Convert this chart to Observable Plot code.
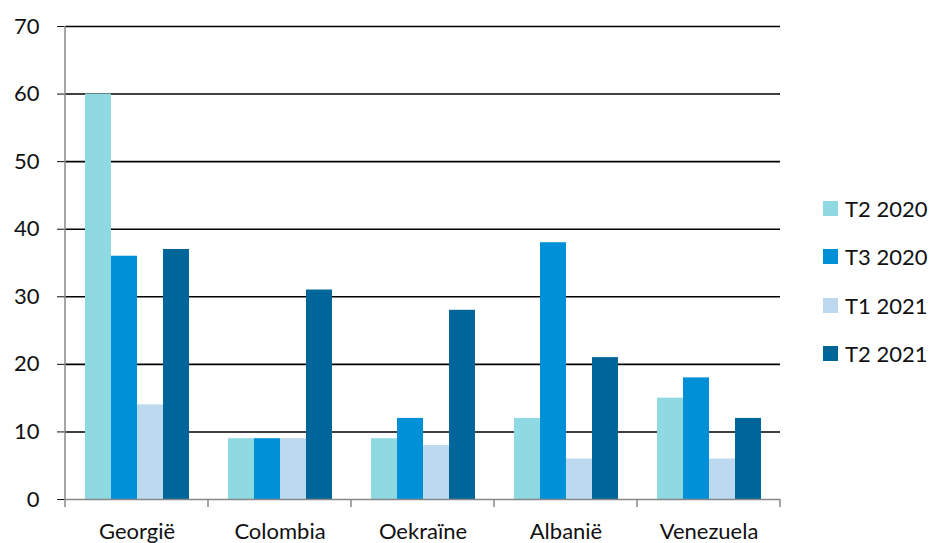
<!DOCTYPE html>
<html><head><meta charset="utf-8">
<script src="https://cdn.jsdelivr.net/npm/d3@7"></script>
<script src="https://cdn.jsdelivr.net/npm/@observablehq/plot@0.6"></script>
<style>
body{margin:0;background:#fff;font-family:Lato,"Open Sans",sans-serif;}
#chart{position:relative;width:931px;height:543px;overflow:hidden;}
#chart svg text{font-size:22px;}
.legend{position:absolute;left:823px;top:0;font-size:22px;color:#111;}
.legend .row{position:absolute;left:0;white-space:nowrap;display:flex;align-items:center;height:26px;}
.legend .sw{width:15px;height:15px;margin-right:7px;}
</style>
</head><body><div id="chart"></div>
<script>
const countries = ["Georgië", "Colombia", "Oekraïne", "Albanië", "Venezuela"];
const seriesNames = ["T2 2020", "T3 2020", "T1 2021", "T2 2021"];
const seriesColors = ["#8FD9E2", "#0090D8", "#BDD9F0", "#006699"];
const valsT2_2020 = [60, 9, 9, 12, 15];
const valsT3_2020 = [36, 9, 12, 38, 18];
const valsT1_2021 = [14, 9, 8, 6, 6];
const valsT2_2021 = [37, 31, 28, 21, 12];
const yTicks = [0, 10, 20, 30, 40, 50, 60, 70];
const gridTicks = [10, 20, 30, 40, 50, 60, 70];

const seriesVals = [valsT2_2020, valsT3_2020, valsT1_2021, valsT2_2021];
const data = [];
countries.forEach((c, i) => seriesNames.forEach((s, j) => data.push({country: c, series: s, value: seriesVals[j][i]})));

const plot = Plot.plot({
  width: 931, height: 543,
  marginLeft: 64, marginRight: 151, marginTop: 26, marginBottom: 44,
  style: {fontFamily: 'Lato, "Open Sans", sans-serif', fontSize: "22px", color: "#111", background: "#fff"},
  fx: {domain: countries, padding: 0, label: null, tickSize: 0, tickPadding: 24},
  x: {domain: seriesNames, paddingInner: 0, paddingOuter: 0.72, axis: null},
  y: {domain: [0, 70], ticks: yTicks, label: null, tickSize: 8, tickPadding: 18},
  color: {domain: seriesNames, range: seriesColors},
  marks: [
    Plot.ruleY(gridTicks, {stroke: "#000", strokeWidth: 1.6}),
    Plot.barY(data, {fx: "country", x: "series", y: "value", fill: "series", inset: 0}),
    Plot.ruleY([0], {stroke: "#888", strokeWidth: 1.5})
  ]
});
document.getElementById("chart").appendChild(plot);

// axis lines via the plot's own scales
const svg = d3.select(plot.tagName.toLowerCase() === "svg" ? plot : plot.querySelector("svg"));
svg.selectAll("g[aria-label='y-axis tick']").attr("stroke", "#888");
const fx = plot.scale("fx");
const ys = plot.scale("y");
const y0 = ys.apply(0), y70 = ys.apply(70);
const xL = fx.apply(countries[0]);
const bw = fx.bandwidth;
svg.append("line").attr("x1", xL).attr("x2", xL).attr("y1", y70).attr("y2", y0 + 8).attr("stroke", "#888").attr("stroke-width", 1.5);
countries.forEach((c, i) => {
  const x = fx.apply(c) + bw;
  svg.append("line").attr("x1", x).attr("x2", x).attr("y1", y0).attr("y2", y0 + 8).attr("stroke", "#888").attr("stroke-width", 1.5);
});

// legend
const leg = document.createElement("div");
leg.className = "legend";
const rowCenters = [208, 256, 305, 353];
seriesNames.forEach((s, i) => {
  const r = document.createElement("div");
  r.className = "row";
  r.style.top = (rowCenters[i] - 13) + "px";
  r.innerHTML = `<span class="sw" style="background:${seriesColors[i]}"></span><span>${s}</span>`;
  leg.appendChild(r);
});
document.getElementById("chart").appendChild(leg);
</script>
</body></html>
